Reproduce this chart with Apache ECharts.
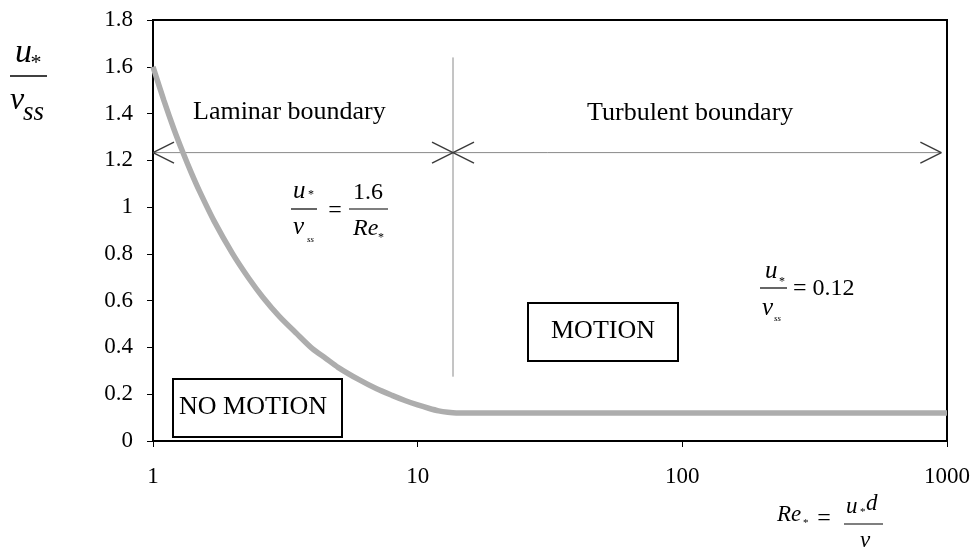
<!DOCTYPE html>
<html>
<head>
<meta charset="utf-8">
<script src="https://cdn.jsdelivr.net/npm/echarts@6/dist/echarts.min.js"></script>
<style>
  html, body { margin: 0; padding: 0; background: #fff; }
  #chart { width: 978px; height: 555px; }
</style>
</head>
<body>
<div id="chart"></div>
<script>
// Critical shear velocity ratio u*/v_ss versus particle Reynolds number Re*
const reValues = [1, 1.1, 1.2, 1.3, 1.4, 1.5, 1.7, 2, 2.3, 2.6, 3, 3.5, 4, 4.5, 5, 6, 7, 8, 9, 10, 11, 12, 13, 14, 15, 20, 50, 100, 300, 1000];
const ratioValues = [1.6, 1.455, 1.333, 1.231, 1.143, 1.067, 0.941, 0.8, 0.696, 0.615, 0.533, 0.458, 0.395, 0.353, 0.315, 0.262, 0.223, 0.195, 0.172, 0.154, 0.14, 0.129, 0.123, 0.12, 0.12, 0.12, 0.12, 0.12, 0.12, 0.12];

// Laminar / turbulent boundary marker: Re* where the divider sits,
// the level of the double arrow, and the vertical extent of the divider
const boundaryRe = [13.6];
const arrowLevel = [1.233];
const arrowEndsRe = [1, 952];
const dividerSpan = [1.64, 0.275];

const serif = '"Liberation Serif", "Times New Roman", serif';

const curveData = reValues.map((r, i) => [r, ratioValues[i]]);

function renderBoundary(params, api) {
  const xb = boundaryRe[0];
  const ya = arrowLevel[0];
  const pL = api.coord([arrowEndsRe[0], ya]);
  const pR = api.coord([arrowEndsRe[1], ya]);
  const pB = api.coord([xb, ya]);
  const vTop = api.coord([xb, dividerSpan[0]]);
  const vBot = api.coord([xb, dividerSpan[1]]);
  const thin = { stroke: '#8a8a8a', lineWidth: 1 };
  const head = { stroke: '#3a3a3a', lineWidth: 1.4 };
  const L = 21, W = 10.5;
  const seg = (x1, y1, x2, y2, st) => ({ type: 'line', shape: { x1, y1, x2, y2 }, style: st });
  return {
    type: 'group',
    children: [
      seg(vTop[0], vTop[1], vBot[0], vBot[1], thin),
      seg(pL[0], pL[1], pR[0], pR[1], thin),
      // left end "<"
      seg(pL[0], pL[1], pL[0] + L, pL[1] - W, head),
      seg(pL[0], pL[1], pL[0] + L, pL[1] + W, head),
      // meeting heads at the divider
      seg(pB[0], pB[1], pB[0] - L, pB[1] - W, head),
      seg(pB[0], pB[1], pB[0] - L, pB[1] + W, head),
      seg(pB[0], pB[1], pB[0] + L, pB[1] - W, head),
      seg(pB[0], pB[1], pB[0] + L, pB[1] + W, head),
      // right end ">"
      seg(pR[0], pR[1], pR[0] - L, pR[1] - W, head),
      seg(pR[0], pR[1], pR[0] - L, pR[1] + W, head)
    ]
  };
}

function txt(text, x, y, size, opts) {
  opts = opts || {};
  return {
    type: 'text',
    x: x, y: y,
    z: 100,
    style: {
      text: text,
      font: (opts.italic ? 'italic ' : '') + size + 'px ' + serif,
      fill: '#000',
      textAlign: opts.align || 'left',
      textVerticalAlign: 'middle'
    }
  };
}
function hline(x1, x2, y, w) {
  return { type: 'line', z: 100, shape: { x1: x1, y1: y, x2: x2, y2: y }, style: { stroke: '#000', lineWidth: w || 1.2 } };
}
function box(x, y, w, h) {
  return { type: 'rect', z: 99, shape: { x: x, y: y, width: w, height: h }, style: { fill: '#fff', stroke: '#000', lineWidth: 2 } };
}

const chart = echarts.init(document.getElementById('chart'), null, { renderer: 'canvas' });

chart.setOption({
  animation: false,
  backgroundColor: '#fff',
  grid: {
    left: 153, top: 20, width: 794, height: 421,
    containLabel: false,
    outerBoundsMode: 'none',
    show: true,
    borderColor: '#000',
    borderWidth: 2,
    backgroundColor: 'transparent'
  },
  xAxis: {
    type: 'log',
    logBase: 10,
    min: 1,
    max: 1000,
    axisLine: { show: true, lineStyle: { color: '#000', width: 2 } },
    axisTick: { show: true, length: 6, inside: false, lineStyle: { color: '#000', width: 1 } },
    minorTick: { show: false },
    splitLine: { show: false },
    axisLabel: {
      color: '#000', fontFamily: serif, fontSize: 23, margin: 24,
      formatter: (v) => String(Math.round(v))
    }
  },
  yAxis: {
    type: 'value',
    min: 0,
    max: 1.8,
    interval: 0.2,
    axisLine: { show: true, lineStyle: { color: '#000', width: 2 } },
    axisTick: { show: true, length: 6, inside: false, lineStyle: { color: '#000', width: 1 } },
    splitLine: { show: false },
    axisLabel: { color: '#000', fontFamily: serif, fontSize: 23, margin: 20 }
  },
  series: [
    {
      type: 'custom',
      renderItem: renderBoundary,
      data: [[boundaryRe[0], arrowLevel[0]]],
      silent: true,
      z: 2
    },
    {
      type: 'line',
      data: curveData,
      showSymbol: false,
      smooth: 0.25,
      lineStyle: { color: '#adadad', width: 5.5 },
      z: 3
    }
  ],
  graphic: [
    // y-axis title: u* / v_ss
    txt('u', 15, 53, 34, { italic: true }),
    txt('*', 36, 63, 22, { align: 'center' }),
    hline(10, 47, 76, 1.5),
    txt('v', 10, 101, 32, { italic: true }),
    txt('ss', 23, 113, 27, { italic: true }),

    // x-axis title: Re* = u*d / ν
    txt('Re', 777, 515, 23, { italic: true }),
    txt('*', 803, 523, 11),
    txt('=', 824, 519, 24, { align: 'center' }),
    txt('u', 846, 507, 23, { italic: true }),
    txt('*', 860, 512, 11),
    txt('d', 866, 504, 23, { italic: true }),
    hline(844, 883, 524, 1.2),
    txt('ν', 865, 541, 23, { italic: true, align: 'center' }),

    // region labels
    txt('Laminar boundary', 193, 112, 26),
    txt('Turbulent boundary', 587, 113, 26),

    // laminar relation
    txt('u', 293, 191, 25, { italic: true }),
    txt('*', 308, 195, 12),
    hline(291, 317, 209, 1.2),
    txt('v', 293, 227, 25, { italic: true }),
    txt('ss', 307, 240, 9, { italic: true }),
    txt('=', 335, 211, 24, { align: 'center' }),
    txt('1.6', 368, 193, 24, { align: 'center' }),
    hline(349, 388, 209, 1.2),
    txt('Re', 353, 229, 24, { italic: true }),
    txt('*', 378, 238, 12),

    // turbulent relation
    txt('u', 765, 271, 25, { italic: true }),
    txt('*', 779, 282, 12),
    hline(760, 787, 288, 1.2),
    txt('v', 762, 308, 25, { italic: true }),
    txt('ss', 774, 319, 9, { italic: true }),
    txt('= 0.12', 793, 289, 24),

    // motion regions
    box(528, 303, 150, 58),
    txt('MOTION', 603, 331, 26, { align: 'center' }),
    box(173, 379, 169, 58),
    txt('NO MOTION', 253, 407, 26, { align: 'center' })
  ]
});
</script>
</body>
</html>
